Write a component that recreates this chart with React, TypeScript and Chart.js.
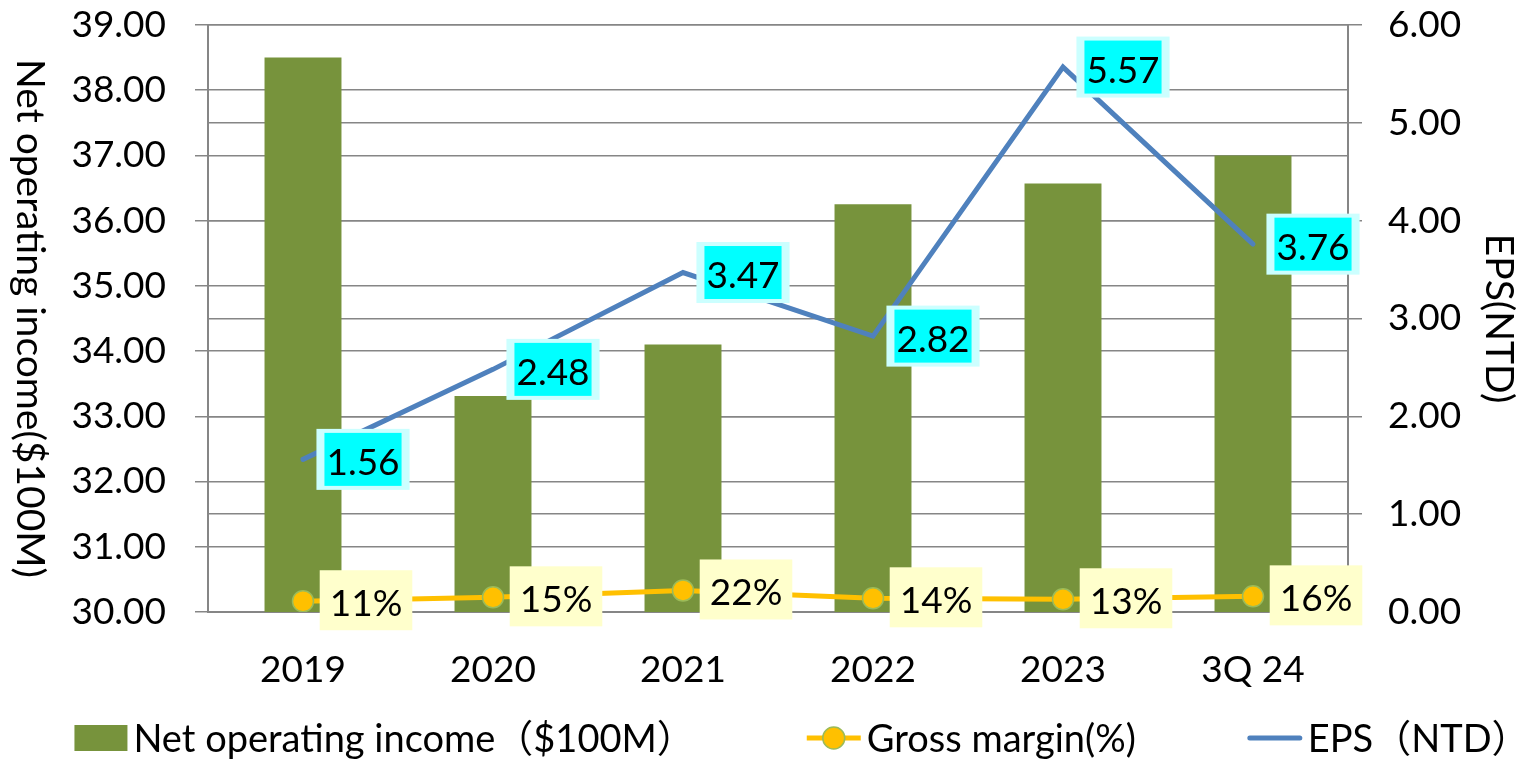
import { useEffect, useRef } from 'react';
import { Chart, registerables } from 'chart.js';

Chart.register(...registerables);

// ---- data ----
const categories = ['2019', '2020', '2021', '2022', '2023', '3Q 24'];
const netOperatingIncome = [38.5, 33.31, 34.1, 36.25, 36.57, 37.0];
const grossMarginPct = [11, 15, 22, 14, 13, 16];
const eps = [1.56, 2.48, 3.47, 2.82, 5.57, 3.76];
const leftAxisRange = [30, 39];
const rightAxisRange = [0, 6];
const seriesNames = ['Net operating income（$100M）', 'Gross margin(%)', 'EPS（NTD）'];
const axisTitles = ['Net operating income($100M)', 'EPS(NTD)'];

// ---- style ----
const FONT = 'Lato, "Noto Sans CJK SC", sans-serif';
const FS = 37;
const GRID = '#868686';
const BAR = '#77933C';
const GOLD = '#FFC000';
const GOLD_BORDER = '#9BBB59';
const BLUE = '#4F81BD';

const labelPlugin = {
  id: 'valueLabels',
  afterDatasetsDraw(chart: any) {
    const ctx = chart.ctx as CanvasRenderingContext2D;
    ctx.save();
    ctx.font = `${FS}px ${FONT}`;
    ctx.textAlign = 'center';
    ctx.textBaseline = 'middle';
    const gm = chart.getDatasetMeta(1);
    gm.data.forEach((pt: any, i: number) => {
      const text = grossMarginPct[i] + '%';
      const w = ctx.measureText(text).width;
      const cx = pt.x + 63;
      const cy = pt.y - 1;
      ctx.fillStyle = '#FFFFCC';
      ctx.fillRect(cx - w / 2 - 10, cy - 30, w + 20, 60);
      ctx.fillStyle = '#000';
      ctx.fillText(text, cx, cy + 4);
    });
    const em = chart.getDatasetMeta(2);
    em.data.forEach((pt: any, i: number) => {
      const text = eps[i].toFixed(2);
      const w = ctx.measureText(text).width;
      const cx = pt.x + 60;
      const cy = pt.y;
      ctx.fillStyle = '#CCFFFF';
      ctx.fillRect(cx - w / 2 - 10, cy - 30.5, w + 20, 61);
      ctx.fillStyle = '#00FFFF';
      ctx.fillRect(cx - w / 2 - 2, cy - 26.5, w + 4, 53);
      ctx.fillStyle = '#000';
      ctx.fillText(text, cx, cy + 4);
    });
    ctx.restore();
  },
};

const titlesLegendPlugin = {
  id: 'titlesLegend',
  afterDraw(chart: any) {
    const ctx = chart.ctx as CanvasRenderingContext2D;
    const area = chart.chartArea;
    const midY = (area.top + area.bottom) / 2;
    ctx.save();
    ctx.font = `39px ${FONT}`;
    ctx.fillStyle = '#000';
    ctx.textAlign = 'center';
    ctx.textBaseline = 'middle';
    // left title (reads top to bottom)
    ctx.save();
    ctx.translate(30, midY);
    ctx.rotate(Math.PI / 2);
    ctx.fillText(axisTitles[0], 0, 0);
    ctx.restore();
    // right title
    ctx.save();
    ctx.translate(chart.width - 35, midY);
    ctx.rotate(Math.PI / 2);
    ctx.fillText(axisTitles[1], 0, 0);
    ctx.restore();

    // legend
    ctx.font = `38px ${FONT}`;
    const ly = 738;
    const symW = [53, 54, 54];
    const gapSym = 6;
    const gapItem = 112;
    const widths = seriesNames.map((n, i) => symW[i] + gapSym + ctx.measureText(n).width);
    const total = widths.reduce((a, b) => a + b, 0) + gapItem * (widths.length - 1);
    let x = 802 - total / 2;
    ctx.textAlign = 'left';
    seriesNames.forEach((name, i) => {
      if (i === 0) {
        ctx.fillStyle = BAR;
        ctx.fillRect(x, ly - 13, symW[0], 26);
      } else if (i === 1) {
        ctx.strokeStyle = GOLD;
        ctx.lineWidth = 5;
        ctx.beginPath();
        ctx.moveTo(x, ly);
        ctx.lineTo(x + symW[1], ly);
        ctx.stroke();
        ctx.beginPath();
        ctx.arc(x + symW[1] / 2, ly, 11, 0, Math.PI * 2);
        ctx.fillStyle = GOLD;
        ctx.fill();
        ctx.lineWidth = 1.5;
        ctx.strokeStyle = GOLD_BORDER;
        ctx.stroke();
      } else {
        ctx.strokeStyle = BLUE;
        ctx.lineWidth = 5;
        ctx.lineCap = 'round';
        ctx.beginPath();
        ctx.moveTo(x + 2, ly);
        ctx.lineTo(x + symW[2] - 2, ly);
        ctx.stroke();
      }
      ctx.fillStyle = '#000';
      ctx.fillText(name, x + symW[i] + gapSym, ly + 2);
      x += widths[i] + gapItem;
    });
    ctx.restore();
  },
};

const fitY = (width: number) => (s: any) => {
  s.width = width;
  s.paddingTop = 0;
  s.paddingBottom = 0;
};

export default function App() {
  const ref = useRef<HTMLCanvasElement | null>(null);
  useEffect(() => {
    document.body.style.margin = '0';
    if (!ref.current) return;
    const chart = new Chart(ref.current, {
      type: 'bar',
      data: {
        labels: categories,
        datasets: [
          {
            type: 'bar',
            label: seriesNames[0],
            data: netOperatingIncome,
            yAxisID: 'y',
            backgroundColor: BAR,
            barPercentage: 0.405,
            categoryPercentage: 1,
            order: 3,
          },
          {
            type: 'line',
            label: seriesNames[1],
            data: grossMarginPct.map((v) => v / 100),
            yAxisID: 'y1',
            borderColor: GOLD,
            borderWidth: 5,
            pointRadius: 10.5,
            pointBackgroundColor: GOLD,
            pointBorderColor: GOLD_BORDER,
            pointBorderWidth: 1.5,
            tension: 0,
            order: 1,
          },
          {
            type: 'line',
            label: seriesNames[2],
            data: eps,
            yAxisID: 'y1',
            borderColor: BLUE,
            borderWidth: 5,
            borderCapStyle: 'round',
            pointRadius: 0,
            tension: 0,
            order: 2,
          },
        ],
      } as any,
      options: {
        animation: false,
        responsive: false,
        events: [],
        layout: { padding: { top: 25, bottom: 58, left: 0, right: 0 } },
        plugins: { legend: { display: false }, tooltip: { enabled: false } },
        scales: {
          x: {
            grid: { display: false, drawTicks: false },
            border: { display: true, color: GRID, width: 2 },
            ticks: { color: '#000', font: { family: FONT, size: FS }, padding: 36 },
            afterFit: (s: any) => {
              s.height = 90;
              s.paddingLeft = 0;
              s.paddingRight = 0;
            },
          },
          y: {
            position: 'left',
            min: leftAxisRange[0],
            max: leftAxisRange[1],
            ticks: {
              stepSize: 1,
              color: '#000',
              font: { family: FONT, size: FS },
              padding: 29,
              callback: (v: any) => Number(v).toFixed(2),
            },
            grid: { color: GRID, lineWidth: 1.5, tickLength: 13 },
            border: { color: GRID, width: 2 },
            afterFit: fitY(208),
          },
          y1: {
            position: 'right',
            min: rightAxisRange[0],
            max: rightAxisRange[1],
            ticks: {
              stepSize: 1,
              color: '#000',
              font: { family: FONT, size: FS },
              padding: 26,
              callback: (v: any) => Number(v).toFixed(2),
            },
            grid: { color: GRID, lineWidth: 1.5, tickLength: 14 },
            border: { color: GRID, width: 2 },
            afterFit: fitY(186),
          },
        },
      } as any,
      plugins: [labelPlugin, titlesLegendPlugin],
    });
    return () => chart.destroy();
  }, []);
  return (
    <div style={{ width: 1534, height: 760 }}>
      <canvas ref={ref} width={1534} height={760} style={{ display: 'block' }} />
    </div>
  );
}
